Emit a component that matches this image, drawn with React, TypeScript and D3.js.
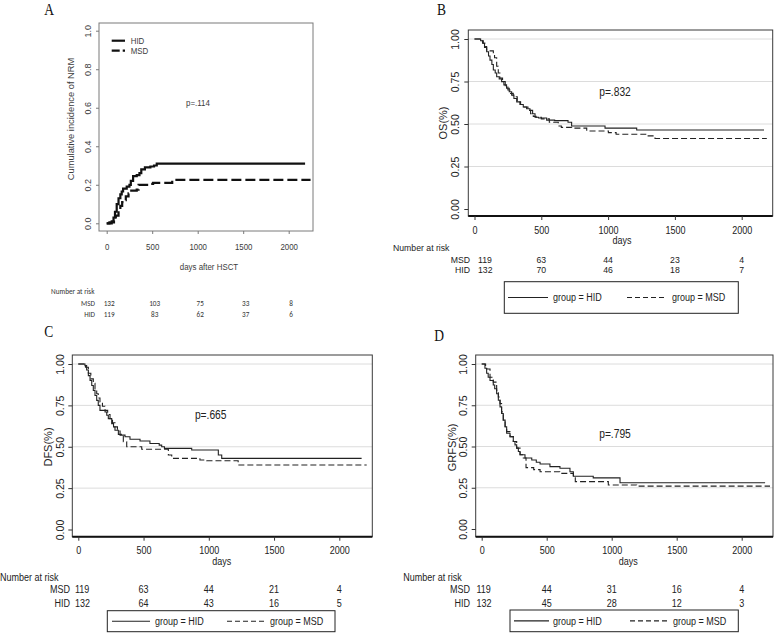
// Four-panel survival figure: NRM cumulative incidence (A) + Stata-style KM curves (B, C, D)

import { useEffect, useRef } from "react";
import * as d3 from "d3";

type Pt = [number, number];

const dayTicks = [0, 500, 1000, 1500, 2000];
const nrmTicks = [0, 0.2, 0.4, 0.6, 0.8, 1.0];
const survTicks = [0, 0.25, 0.5, 0.75, 1.0];
const gridTicks = [0.25, 0.5, 0.75, 1.0];

// A - cumulative incidence of NRM
const nrmHID: Pt[] = [
  [0, 0], [55, 0.01], [75, 0.03], [91, 0.06], [110, 0.1], [130, 0.13], [150, 0.15],
  [165, 0.165], [180, 0.18], [220, 0.19], [250, 0.2], [265, 0.22], [290, 0.245],
  [330, 0.25], [360, 0.26], [380, 0.28], [420, 0.29], [480, 0.295], [520, 0.3],
  [550, 0.31], [2180, 0.31],
];
const nrmMSD: Pt[] = [
  [0, 0], [30, 0.005], [80, 0.02], [100, 0.04], [130, 0.07], [150, 0.09], [170, 0.11],
  [190, 0.12], [210, 0.14], [240, 0.155], [270, 0.17], [330, 0.175], [350, 0.2],
  [470, 0.205], [510, 0.21], [720, 0.225], [2240, 0.225],
];
const nrmRiskMSD = [132, 103, 75, 33, 8];
const nrmRiskHID = [119, 83, 62, 37, 6];

// B - OS
const osHID: Pt[] = [
  [0, 1], [46, 0.99], [60, 0.975], [75, 0.95], [91, 0.925], [105, 0.9], [116, 0.876],
  [130, 0.85], [141, 0.818], [155, 0.8], [166, 0.778], [185, 0.765], [203, 0.749],
  [220, 0.73], [240, 0.71], [260, 0.69], [278, 0.67], [295, 0.65], [316, 0.63],
  [340, 0.615], [365, 0.6], [390, 0.59], [415, 0.58], [435, 0.56], [453, 0.54],
  [480, 0.535], [540, 0.523], [600, 0.52], [700, 0.51], [727, 0.488], [977, 0.476],
  [1214, 0.465], [2167, 0.465],
];
const osMSD: Pt[] = [
  [0, 1], [50, 0.99], [66, 0.975], [80, 0.955], [91, 0.935], [100, 0.93], [141, 0.92],
  [150, 0.89], [166, 0.84], [178, 0.8], [190, 0.77], [210, 0.75], [230, 0.72],
  [250, 0.7], [270, 0.68], [290, 0.66], [320, 0.63], [345, 0.615], [370, 0.6],
  [400, 0.58], [420, 0.56], [440, 0.545], [460, 0.54], [500, 0.53], [560, 0.51],
  [627, 0.488], [650, 0.48], [727, 0.476], [840, 0.459], [1002, 0.449], [1060, 0.44],
  [1289, 0.43], [1351, 0.415], [2188, 0.415],
];
const osRiskMSD = [119, 63, 44, 23, 4];
const osRiskHID = [132, 70, 46, 18, 7];

// C - DFS
const dfsHID: Pt[] = [
  [0, 1], [51, 0.99], [64, 0.964], [77, 0.93], [90, 0.9], [103, 0.87], [115, 0.84],
  [128, 0.81], [141, 0.78], [153, 0.75], [166, 0.72], [205, 0.71], [218, 0.69],
  [230, 0.67], [256, 0.64], [270, 0.62], [281, 0.6], [307, 0.575], [330, 0.57],
  [358, 0.56], [396, 0.545], [473, 0.535], [549, 0.52], [620, 0.51], [639, 0.5],
  [660, 0.49], [869, 0.48], [1073, 0.45], [1099, 0.43], [2171, 0.43],
];
const dfsMSD: Pt[] = [
  [0, 1], [55, 0.98], [77, 0.944], [96, 0.91], [115, 0.883], [128, 0.85], [141, 0.82],
  [153, 0.795], [166, 0.77], [185, 0.745], [205, 0.72], [225, 0.695], [243, 0.67],
  [262, 0.645], [281, 0.62], [300, 0.595], [320, 0.57], [345, 0.53], [371, 0.5],
  [486, 0.485], [690, 0.45], [716, 0.43], [932, 0.42], [984, 0.415], [1225, 0.39],
  [2210, 0.39],
];
const dfsRiskMSD = [119, 63, 44, 21, 4];
const dfsRiskHID = [132, 64, 43, 16, 5];

// D - GRFS
const grfsHID: Pt[] = [
  [0, 1], [25, 0.974], [38, 0.944], [50, 0.92], [64, 0.9], [89, 0.873], [100, 0.85],
  [115, 0.82], [128, 0.78], [141, 0.74], [153, 0.7], [166, 0.66], [180, 0.62],
  [192, 0.58], [218, 0.56], [243, 0.53], [256, 0.51], [269, 0.49], [282, 0.47],
  [295, 0.45], [333, 0.43], [385, 0.418], [420, 0.405], [449, 0.394], [525, 0.378],
  [602, 0.368], [679, 0.347], [705, 0.32], [858, 0.31], [1064, 0.28], [2180, 0.28],
];
const grfsMSD: Pt[] = [
  [0, 1], [30, 0.985], [38, 0.97], [64, 0.92], [89, 0.89], [115, 0.84], [128, 0.8],
  [141, 0.76], [153, 0.71], [166, 0.66], [180, 0.62], [192, 0.59], [218, 0.56],
  [243, 0.53], [269, 0.49], [295, 0.45], [320, 0.43], [341, 0.372], [400, 0.36],
  [449, 0.347], [600, 0.337], [705, 0.31], [720, 0.287], [974, 0.267], [1192, 0.26],
  [2218, 0.26],
];
const grfsRiskMSD = [119, 44, 31, 16, 4];
const grfsRiskHID = [132, 45, 28, 12, 3];

const SANS = "'Liberation Sans', Arial, Helvetica, sans-serif";
const SERIF = "'Liberation Serif', 'Times New Roman', serif";
const RISK_FONT = "Carlito, Lato, 'Liberation Sans', sans-serif";

type Sel = d3.Selection<SVGGElement, unknown, null, undefined>;

// horizontal text is squeezed (the figure was scaled narrower than tall)
function label(
  g: Sel, x: number, y: number, str: string, size: number,
  o: { anchor?: string; sx?: number; sy?: number; rotate?: boolean; family?: string; fill?: string; baseline?: boolean } = {}
) {
  const t = g.append("text")
    .attr("font-family", o.family ?? SANS)
    .attr("font-size", size)
    .attr("fill", o.fill ?? "#222")
    .attr("text-anchor", o.rotate ? "middle" : o.anchor ?? "start")
    .text(str);
  if (!o.baseline) t.attr("dy", "0.35em");
  if (o.rotate) t.attr("transform", `translate(${x},${y}) rotate(-90)`);
  else t.attr("transform", `translate(${x},${y}) scale(${o.sx ?? 0.82},${o.sy ?? 1})`);
  return t;
}

const panels = [
  {
    letter: "B", letterPos: [437, 14.5], box: [468.3, 30, 772.7, 216],
    xRange: [474.5, 741.7], yRange: [209, 39], yLabel: "OS(%)", yLabelPos: [443, 123],
    yTickOff: 13.3, xTickOff: 14, daysPos: [622, 240], p: "p=.832", pPos: [615, 92],
    riskHead: [393, 248], riskRows: [260, 270], riskLabelX: 470, firstNumX: 478, riskSize: 10.6, riskSy: 0.85,
    legend: { box: [504.3, 281.7, 738.3, 313.3], solid: [508, 548], t1: 553, dashed: [627, 667], t2: 672 },
    hid: osHID, msd: osMSD, riskMSD: osRiskMSD, riskHID: osRiskHID,
  },
  {
    letter: "C", letterPos: [44.3, 336.5], box: [72.3, 355, 372.3, 536.7],
    xRange: [78.3, 339.3], yRange: [529.5, 364], yLabel: "DFS(%)", yLabelPos: [48, 447],
    yTickOff: 12.3, xTickOff: 13.3, daysPos: [221.7, 560.7], p: "p=.665", pPos: [210.7, 414.3],
    riskHead: [0, 576.7], riskRows: [589.3, 602.7], riskLabelX: 70, firstNumX: 75, riskSize: 11, riskSy: 1,
    legend: { box: [107.3, 610.7, 335, 631.7], solid: [112, 150], t1: 155, dashed: [227, 265], t2: 270 },
    hid: dfsHID, msd: dfsMSD, riskMSD: dfsRiskMSD, riskHID: dfsRiskHID,
  },
  {
    letter: "D", letterPos: [434.3, 340.5], box: [475.7, 355, 773, 536.7],
    xRange: [481.7, 741.7], yRange: [529, 364], yLabel: "GRFS(%)", yLabelPos: [452, 447.5],
    yTickOff: 12.7, xTickOff: 13.3, daysPos: [628.3, 560.7], p: "p=.795", pPos: [615, 433.3],
    riskHead: [403.3, 576.7], riskRows: [589, 603], riskLabelX: 470, firstNumX: 476.5, riskSize: 11, riskSy: 1,
    legend: { box: [510, 610, 738.3, 631.7], solid: [514, 549], t1: 553, dashed: [630, 669], t2: 673 },
    hid: grfsHID, msd: grfsMSD, riskMSD: grfsRiskMSD, riskHID: grfsRiskHID,
  },
];

function drawNRM(svg: d3.Selection<SVGSVGElement, unknown, null, undefined>) {
  const g = svg.append("g") as unknown as Sel;
  const x = d3.scaleLinear().domain([0, 2000]).range([106.7, 288.7]);
  const y = d3.scaleLinear().domain([0, 1]).range([223.3, 30.7]);
  const [bx0, by0, bx1, by1] = [99, 23, 313, 231];
  const txt = "#3c3c3c";

  label(g, 44.3, 14.5, "A", 16.5, { family: SERIF, baseline: true, fill: "#111" });

  g.append("rect").attr("x", bx0).attr("y", by0).attr("width", bx1 - bx0).attr("height", by1 - by0)
    .attr("fill", "none").attr("stroke", "#7a7a7a").attr("stroke-width", 1);

  const line = d3.line<Pt>().x((d) => x(d[0])).y((d) => y(d[1])).curve(d3.curveStepAfter);
  g.append("path").datum(nrmHID).attr("d", line).attr("fill", "none")
    .attr("stroke", "#111").attr("stroke-width", 2.2);
  g.append("path").datum(nrmMSD).attr("d", line).attr("fill", "none")
    .attr("stroke", "#111").attr("stroke-width", 2.2).attr("stroke-dasharray", "10,4");

  const ya = g.append("g").attr("transform", `translate(${bx0},0)`)
    .call(d3.axisLeft(y).tickValues(nrmTicks).tickSize(3).tickFormat(d3.format(".1f")));
  ya.select(".domain").remove();
  ya.attr("color", "#7a7a7a").attr("font-family", null).attr("font-size", null);
  ya.selectAll("text").attr("x", 0).attr("dy", "0.35em").attr("text-anchor", "middle")
    .attr("fill", txt).attr("font-family", SANS).attr("font-size", 9)
    .attr("transform", `translate(-11,0) rotate(-90)`);

  const xa = g.append("g").attr("transform", `translate(0,${by1})`)
    .call(d3.axisBottom(x).tickValues(dayTicks).tickSize(3).tickFormat(d3.format("d")));
  xa.select(".domain").remove();
  xa.attr("color", "#7a7a7a").attr("font-family", null).attr("font-size", null);
  xa.selectAll("text").attr("y", 0).attr("dy", "0.35em")
    .attr("fill", txt).attr("font-family", SANS).attr("font-size", 9.3)
    .attr("transform", `translate(0,16) scale(0.85,1)`);

  label(g, 71, 119, "Cumulative incidence of NRM", 9.3, { rotate: true, fill: txt });
  label(g, 209, 267, "days after HSCT", 9.3, { anchor: "middle", sx: 0.85, fill: txt });
  label(g, 198, 103, "p=.114", 9.3, { anchor: "middle", sx: 0.85, fill: txt });

  g.append("line").attr("x1", 111.7).attr("x2", 125).attr("y1", 40.7).attr("y2", 40.7)
    .attr("stroke", "#111").attr("stroke-width", 2.2);
  g.append("line").attr("x1", 111.7).attr("x2", 125).attr("y1", 50.7).attr("y2", 50.7)
    .attr("stroke", "#111").attr("stroke-width", 2.2).attr("stroke-dasharray", "8,3");
  label(g, 130.7, 40.7, "HID", 9.3, { sx: 0.85, fill: txt });
  label(g, 130.7, 50.7, "MSD", 9.3, { sx: 0.85, fill: txt });

  label(g, 51, 291, "Number at risk", 8.5, { family: RISK_FONT, sx: 0.85, fill: "#333" });
  const rows: [string, number[], number][] = [["MSD", nrmRiskMSD, 303], ["HID", nrmRiskHID, 314]];
  rows.forEach(([name, vals, ry]) => {
    label(g, 95, ry, name, 8.5, { family: RISK_FONT, sx: 0.85, anchor: "end", fill: "#333" });
    vals.forEach((v, i) =>
      label(g, x(dayTicks[i]) + 2.5, ry, String(v), 8.5, { family: RISK_FONT, sx: 0.85, anchor: "middle", fill: "#333" })
    );
  });
}

function drawKM(svg: d3.Selection<SVGSVGElement, unknown, null, undefined>, c: (typeof panels)[number]) {
  const g = svg.append("g") as unknown as Sel;
  const x = d3.scaleLinear().domain([0, 2000]).range(c.xRange);
  const y = d3.scaleLinear().domain([0, 1]).range(c.yRange);
  const [bx0, by0, bx1, by1] = c.box;

  label(g, c.letterPos[0], c.letterPos[1], c.letter, 16.5, { family: SERIF, baseline: true, fill: "#111" });

  g.selectAll("line.grid").data(gridTicks).join("line").attr("class", "grid")
    .attr("x1", bx0).attr("x2", bx1).attr("y1", (d) => y(d)).attr("y2", (d) => y(d))
    .attr("stroke", "#dcdcdc").attr("stroke-width", 1);

  g.append("rect").attr("x", bx0).attr("y", by0).attr("width", bx1 - bx0).attr("height", by1 - by0)
    .attr("fill", "none").attr("stroke", "#3a3a3a").attr("stroke-width", 1);
  g.append("line").attr("x1", bx0).attr("x2", bx1).attr("y1", by1).attr("y2", by1)
    .attr("stroke", "#111").attr("stroke-width", 2);

  const line = d3.line<Pt>().x((d) => x(d[0])).y((d) => y(d[1])).curve(d3.curveStepAfter);
  g.append("path").datum(c.msd).attr("d", line).attr("fill", "none")
    .attr("stroke", "#222").attr("stroke-width", 1.1).attr("stroke-dasharray", "6,3");
  g.append("path").datum(c.hid).attr("d", line).attr("fill", "none")
    .attr("stroke", "#222").attr("stroke-width", 1.1);

  const ya = g.append("g").attr("transform", `translate(${bx0},0)`)
    .call(d3.axisLeft(y).tickValues(survTicks).tickSize(4).tickFormat(d3.format(".2f")));
  ya.select(".domain").remove();
  ya.attr("color", "#333").attr("font-family", null).attr("font-size", null);
  ya.selectAll("text").attr("x", 0).attr("dy", "0.35em").attr("text-anchor", "middle")
    .attr("fill", "#222").attr("font-family", SANS).attr("font-size", 10.5)
    .attr("transform", `translate(${-c.yTickOff},0) rotate(-90)`);

  const xa = g.append("g").attr("transform", `translate(0,${by1})`)
    .call(d3.axisBottom(x).tickValues(dayTicks).tickSize(4).tickFormat(d3.format("d")));
  xa.select(".domain").remove();
  xa.attr("color", "#333").attr("font-family", null).attr("font-size", null);
  xa.selectAll("text").attr("y", 0).attr("dy", "0.35em")
    .attr("fill", "#222").attr("font-family", SANS).attr("font-size", 11)
    .attr("transform", `translate(0,${c.xTickOff}) scale(0.82,1)`);

  label(g, c.yLabelPos[0], c.yLabelPos[1], c.yLabel, 11, { rotate: true });
  label(g, c.daysPos[0], c.daysPos[1], "days", 11, { anchor: "middle" });
  label(g, c.pPos[0], c.pPos[1], c.p, 12.5, { anchor: "middle" });

  const rs = c.riskSize;
  const sy = c.riskSy;
  label(g, c.riskHead[0], c.riskHead[1], "Number at risk", rs, { sy });
  const rows: [string, number[], number][] = [["MSD", c.riskMSD, c.riskRows[0]], ["HID", c.riskHID, c.riskRows[1]]];
  rows.forEach(([name, vals, ry]) => {
    label(g, c.riskLabelX, ry, name, rs, { anchor: "end", sy });
    vals.forEach((v, i) => {
      if (i === 0) label(g, c.firstNumX, ry, String(v), rs, { sy });
      else label(g, x(dayTicks[i]), ry, String(v), rs, { anchor: "middle", sy });
    });
  });

  const L = c.legend;
  const [lx0, ly0, lx1, ly1] = L.box;
  const ly = (ly0 + ly1) / 2;
  g.append("rect").attr("x", lx0).attr("y", ly0).attr("width", lx1 - lx0).attr("height", ly1 - ly0)
    .attr("fill", "none").attr("stroke", "#222").attr("stroke-width", 1);
  g.append("line").attr("x1", L.solid[0]).attr("x2", L.solid[1]).attr("y1", ly).attr("y2", ly)
    .attr("stroke", "#222").attr("stroke-width", 1.1);
  g.append("line").attr("x1", L.dashed[0]).attr("x2", L.dashed[1]).attr("y1", ly).attr("y2", ly)
    .attr("stroke", "#222").attr("stroke-width", 1.1).attr("stroke-dasharray", "5,3");
  label(g, L.t1, ly, "group = HID", 11);
  label(g, L.t2, ly, "group = MSD", 11);
}

export default function App() {
  const svgRef = useRef<SVGSVGElement>(null);

  useEffect(() => {
    if (!svgRef.current) return;
    const svg = d3.select(svgRef.current);
    svg.selectAll("*").remove();
    drawNRM(svg);
    panels.forEach((p) => drawKM(svg, p));
  }, []);

  return (
    <svg
      ref={svgRef}
      width={778}
      height={634}
      style={{ position: "absolute", left: 0, top: 0, background: "#fff" }}
    />
  );
}
